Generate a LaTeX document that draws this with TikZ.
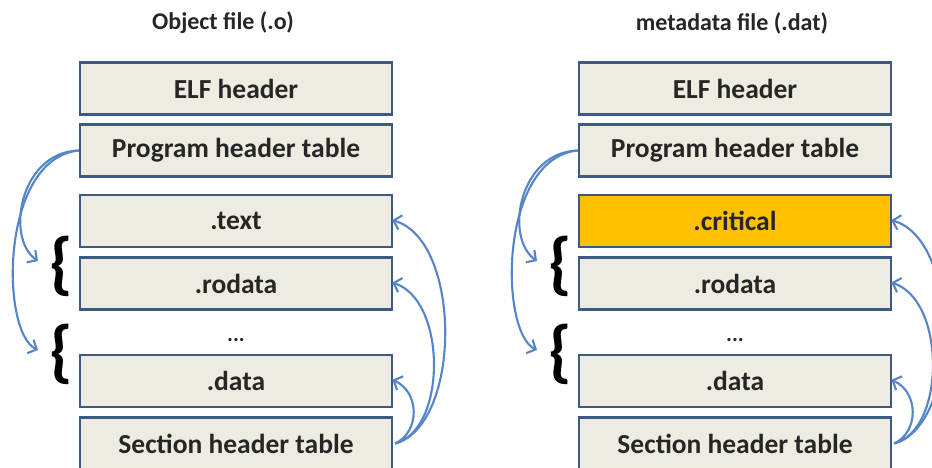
\documentclass[tikz,border=0pt]{standalone}
\usepackage{fontspec}
\setmainfont{Carlito}
\usetikzlibrary{arrows.meta}
\definecolor{boxfill}{HTML}{EEECE1}
\definecolor{boxline}{HTML}{3B5A85}
\definecolor{crit}{HTML}{FFC000}
\definecolor{arr}{HTML}{5585C8}
\begin{document}
\begin{tikzpicture}[x=1pt,y=-1pt,
 sect/.style={draw=boxline, line width=2.3pt, minimum width=312pt, minimum height=52pt, inner sep=0pt, font=\bfseries\fontsize{27.5}{30}\selectfont, text=black!85},
 ttl/.style={font=\bfseries\fontsize{24}{28}\selectfont, text=black!85},
 link/.style={draw=arr, line width=2.1pt, -{Straight Barb[length=7pt,width=15pt]}},
 bracenode/.style={font=\bfseries\fontsize{69}{69}\selectfont, inner sep=0pt},
 dots/.style={font=\bfseries\fontsize{22}{26}\selectfont, inner sep=0pt, text=black!85}
]
\useasboundingbox (0,0) rectangle (932,468);
\fill[white] (0,0) rectangle (932,468);
\foreach \p/\dx/\tx/\ttext/\third/\thirdfill in {L/0/223/{Object file (.o)}/.text/boxfill, R/499/732/{metadata file (.dat)}/.critical/crit} {
  \node[ttl] (\p t) at (\tx,23) {\ttext};
  \node[sect, fill=boxfill] (\p1) at (236+\dx,88.5) {ELF header};
  \node[sect, fill=boxfill] (\p2) at (236+\dx,150.5) {Program header table};
  \node[sect, fill=\thirdfill] (\p3) at (236+\dx,221) {\third};
  \node[sect, fill=boxfill] (\p4) at (236+\dx,283.5) {.rodata};
  \node[dots] (\p d) at (236+\dx,340) {...};
  \node[sect, fill=boxfill] (\p5) at (236+\dx,381) {.data};
  \node[sect, fill=boxfill] (\p6) at (236+\dx,443.5) {Section header table};
  \node[bracenode] (\p b1) at (61+\dx,266) {\{};
  \node[bracenode] (\p b2) at (61+\dx,354) {\{};
  \coordinate (\p a1) at (38+\dx,261);
  \coordinate (\p a2) at (38+\dx,350);
  \draw[link] (\p2.west) .. controls (20+\dx,152) and (5+\dx,238) .. (\p a1);
  \draw[link] (\p2.west) .. controls (0+\dx,158) and (0+\dx,332) .. (\p a2);
  \draw[link, shorten >=-3pt] ([xshift=2pt]\p6.east) .. controls (420+\dx,432) and (420+\dx,392) .. ([xshift=2pt]\p5.east);
  \draw[link, shorten >=-3pt] ([xshift=2pt]\p6.east) .. controls (447+\dx,430) and (447+\dx,300) .. ([xshift=2pt]\p4.east);
  \draw[link, shorten >=-3pt] ([xshift=2pt]\p6.east) .. controls (462+\dx,425) and (462+\dx,240) .. ([xshift=2pt]\p3.east);
}
\end{tikzpicture}
\end{document}
